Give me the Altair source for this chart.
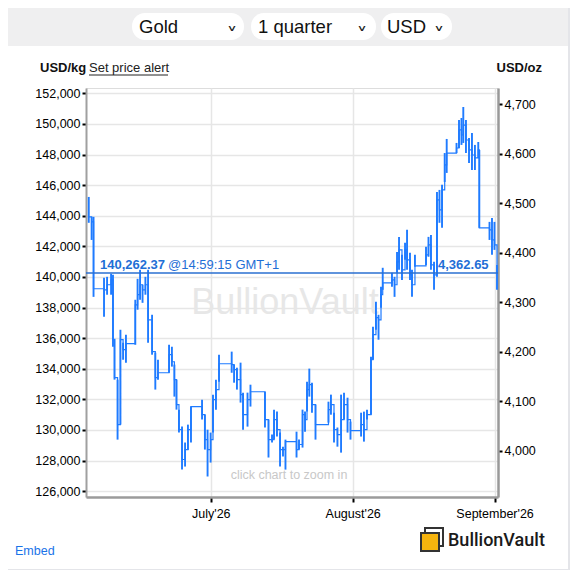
import altair as alt
import pandas as pd

# ---- price bars (USD/kg) ----
times = [
    "2026-06-04T08:00", "2026-06-04T23:00", "2026-06-05T09:00", "2026-06-07T16:00", "2026-06-08T08:00",
    "2026-06-09T05:00", "2026-06-09T15:00", "2026-06-09T23:00", "2026-06-10T15:00", "2026-06-11T06:00",
    "2026-06-11T20:00", "2026-06-12T11:00", "2026-06-14T12:00", "2026-06-15T00:00", "2026-06-15T13:00",
    "2026-06-16T02:00", "2026-06-16T17:00", "2026-06-17T07:00", "2026-06-18T04:00", "2026-06-18T21:00",
    "2026-06-19T11:00", "2026-06-21T21:00", "2026-06-22T12:00", "2026-06-23T01:00", "2026-06-23T12:00",
    "2026-06-24T01:00", "2026-06-24T17:00", "2026-06-25T09:00", "2026-06-26T00:00", "2026-06-26T16:00",
    "2026-06-29T02:00", "2026-06-29T17:00", "2026-06-30T07:00", "2026-06-30T23:00", "2026-07-01T11:30",
    "2026-07-02T03:00", "2026-07-02T19:00", "2026-07-05T13:30", "2026-07-06T02:00", "2026-07-06T17:00",
    "2026-07-07T12:00", "2026-07-08T01:00", "2026-07-09T00:30", "2026-07-09T16:00", "2026-07-12T20:00",
    "2026-07-13T14:30", "2026-07-14T09:00", "2026-07-14T19:30", "2026-07-15T11:00", "2026-07-16T03:00",
    "2026-07-16T18:30", "2026-07-17T07:30", "2026-07-19T17:30", "2026-07-20T06:30", "2026-07-21T01:00",
    "2026-07-21T14:00", "2026-07-22T00:30", "2026-07-22T12:30", "2026-07-23T02:30", "2026-07-23T21:00",
    "2026-07-26T17:00", "2026-07-27T06:00", "2026-07-27T22:00", "2026-07-28T16:00", "2026-07-29T11:00",
    "2026-07-30T02:30", "2026-07-30T21:00", "2026-07-31T12:30", "2026-08-02T20:00", "2026-08-03T11:00",
    "2026-08-04T03:00", "2026-08-05T00:00", "2026-08-05T10:30", "2026-08-06T02:00", "2026-08-06T15:30",
    "2026-08-07T04:30", "2026-08-07T13:30", "2026-08-09T14:00", "2026-08-10T03:30", "2026-08-10T16:30",
    "2026-08-11T03:00", "2026-08-11T18:30", "2026-08-12T10:30", "2026-08-12T21:00", "2026-08-13T12:30",
    "2026-08-13T23:00", "2026-08-14T14:30", "2026-08-17T00:30", "2026-08-17T13:30", "2026-08-18T02:30",
    "2026-08-18T18:30", "2026-08-19T10:00", "2026-08-19T23:00", "2026-08-20T12:30", "2026-08-21T02:30",
    "2026-08-21T13:00", "2026-08-23T16:30", "2026-08-24T05:30", "2026-08-24T18:30", "2026-08-25T04:00",
    "2026-08-25T18:00", "2026-08-26T10:00", "2026-08-27T01:30", "2026-08-27T17:00", "2026-08-28T10:30",
    "2026-08-28T16:00", "2026-08-30T21:30", "2026-08-31T10:30", "2026-08-31T23:30", "2026-09-01T12:45",
]
highs = [
    145230, 143930, 143930, 139950, 140010, 140210, 140140, 135960, 133290, 136550,
    135700, 136230, 138510, 139880, 140470, 139490, 140010, 140470, 137530, 135050,
    134590, 135570, 135440, 134270, 133290, 131330, 130220, 129180, 130350, 131530,
    131980, 131000, 130020, 129830, 132310, 133290, 134920, 135120, 134270, 134070,
    134400, 132440, 132440, 132960, 132500, 130680, 129700, 131330, 131200, 129830,
    128910, 129370, 129890, 129370, 131330, 131200, 133160, 134010, 133090, 131660,
    131850, 132310, 131130, 130160, 132310, 132440, 132110, 130550, 131130, 131200,
    131330, 134790, 136750, 138380, 137530, 139360, 140600, 140270, 140010, 141640,
    142620, 141450, 142230, 143080, 141580, 140470, 141450, 141970, 142620, 142750,
    140990, 145560, 145690, 146020, 148100, 149020, 148760, 150260, 150390, 151110,
    150260, 149080, 149410, 148630, 148820, 148300, 143600, 143860, 143600, 140790,
]
lows = [
    143540, 142420, 138700, 137400, 138840, 138840, 135440, 133290, 129370, 130350,
    134590, 134400, 135570, 137860, 138510, 138310, 138840, 135700, 134920, 132640,
    133290, 133740, 134140, 132180, 131330, 129830, 127410, 127610, 128700, 129180,
    130680, 128720, 126960, 127870, 129830, 131330, 133160, 133740, 133090, 132640,
    131790, 130020, 130220, 131530, 130160, 128200, 129180, 129370, 129570, 127610,
    128260, 127410, 128200, 128720, 128850, 129890, 131200, 132180, 131130, 129370,
    130480, 131000, 129180, 128910, 128520, 130680, 129830, 129370, 129570, 129240,
    130680, 131000, 134590, 136550, 135900, 137990, 139160, 139360, 138700, 140270,
    140470, 139810, 141120, 140470, 139810, 138700, 140660, 140790, 141320, 140470,
    139160, 140010, 143540, 143210, 146210, 146800, 148100, 148430, 148630, 148760,
    148100, 147450, 146990, 146990, 147780, 143210, 142420, 141450, 141770, 139160,
]
closes = [
    143930, 143600, 139230, 139160, 139490, 139810, 135900, 133420, 130350, 135900,
    135250, 135640, 138180, 138840, 139490, 139160, 139490, 137200, 135120, 133420,
    133740, 134920, 134460, 133290, 131660, 130020, 128070, 128720, 130020, 131530,
    131000, 129370, 128720, 129370, 131980, 132640, 134330, 134270, 133940, 133290,
    132310, 131000, 131980, 132500, 130680, 129370, 129370, 130680, 130020, 128720,
    128720, 129240, 128720, 129050, 131000, 130680, 132640, 132960, 131660, 130350,
    131330, 131660, 130020, 129700, 130680, 131660, 130680, 129960, 130350, 130020,
    131000, 134590, 136230, 137340, 137200, 138840, 139620, 139810, 139490, 140990,
    141770, 140470, 141770, 141120, 140140, 139490, 140730, 141450, 142100, 140790,
    140140, 145040, 144380, 145690, 147320, 148100, 148430, 149610, 149280, 149930,
    148950, 148300, 147970, 147780, 148300, 143210, 143080, 142420, 142100, 140262.37,
]

current_kg = 140262.37
current_oz = 4362.65
kg_ticks = list(range(126000, 152001, 2000))
oz_ticks = list(range(4000, 4701, 100))
month_ticks = [alt.DateTime(year=2026, month=m, date=1) for m in (7, 8, 9)]

KG_DOMAIN = [125620, 152350]
OZ_DOMAIN = [3907, 4733]
X_DOMAIN = [alt.DateTime(year=2026, month=6, date=3, hours=17, minutes=30),
            alt.DateTime(year=2026, month=9, date=1, hours=18)]

W, H = 412, 409
BLUE = "#1f7bff"
TXT_BLUE = "#1f6fd6"
FONT = "Liberation Sans"

df = pd.DataFrame({"t": times, "high": highs, "low": lows, "close": closes})
one = pd.DataFrame({"d": [0]})
price_df = pd.DataFrame({"price": [current_kg]})
oz_df = pd.DataFrame({"oz": [OZ_DOMAIN[0]]})

base = alt.Chart(one)


def rect(x, x2, y, y2, **kw):
    return base.mark_rect(**kw).encode(x=alt.value(x), x2=alt.value(x2), y=alt.value(y), y2=alt.value(y2))


def text(s, x, y, **kw):
    return base.mark_text(text=s, font=kw.pop("font", FONT), **kw).encode(x=alt.value(x), y=alt.value(y))


# ---- decorations (header, labels, footer) ----
header = rect(-78, 482, -80, -42, color="#efeff0")
edge_r = rect(482, 492, -80, 484, color="#e4e5e9")
edge_b = rect(-78, 492, 481, 484, color="#e4e5e9")
pill1 = rect(46, 158, -75, -48, color="white", cornerRadius=13)
pill2 = rect(165, 290, -75, -48, color="white", cornerRadius=13)
pill3 = rect(295, 366, -75, -48, color="white", cornerRadius=13)
sel1 = text("Gold", 53, -61.5, align="left", baseline="middle", fontSize=18.5, color="#111")
sel2 = text("1 quarter", 172, -61.5, align="left", baseline="middle", fontSize=18.5, color="#111")
sel3 = text("USD", 301, -61.5, align="left", baseline="middle", fontSize=18.5, color="#111")
chev_kw = dict(align="center", baseline="middle", fontSize=22, color="#222", font="DejaVu Sans")
chev1 = text("˅", 146, -52, **chev_kw)
chev2 = text("˅", 276, -52, **chev_kw)
chev3 = text("˅", 353, -52, **chev_kw)

unit_kg = text("USD/kg", -46, -20, align="left", baseline="middle", fontSize=13, fontWeight="bold", color="#111")
alert = text("Set price alert", 3, -20, align="left", baseline="middle", fontSize=13, color="#222")
alert_ul = base.mark_rule(color="#222", strokeWidth=1).encode(
    x=alt.value(3), x2=alt.value(82), y=alt.value(-13))
unit_oz = text("USD/oz", 456, -20, align="right", baseline="middle", fontSize=13, fontWeight="bold", color="#111")

watermark = text("BullionVault", 199, 215, align="center", baseline="middle", fontSize=36, color="#e7e7e7")
zoom_hint = text("click chart to zoom in", 203, 387, align="center", baseline="middle", fontSize=12.5, color="#c8c8c8")

embed = text("Embed", -71, 463, align="left", baseline="middle", fontSize=12.5, color="#1a73e8")
logo_back = rect(339, 357, 440, 458, fill="white", stroke="#333", strokeWidth=2)
logo_front = rect(335, 353, 445, 463, fill="#f6b40e", stroke="#333", strokeWidth=2)
logo_txt = text("BullionVault", 362, 453, align="left", baseline="middle", fontSize=18,
                font="Roboto", fontWeight=500, color="#1a1a1a")

# ---- chart layers ----
x_axis = alt.Axis(
    values=month_ticks,
    labelExpr="timeFormat(datum.value, '%B') + \"'\" + timeFormat(datum.value, '%y')",
    title=None, grid=True, gridColor="#e6e6e6", gridWidth=1.5,
    domainColor="#9a9a9a", domainWidth=2.5, tickColor="#000", tickWidth=2, tickSize=5,
    labelFontSize=12.5, labelColor="#000", labelPadding=5, labelFont=FONT,
)
x_scale = alt.Scale(domain=X_DOMAIN)

bars = alt.Chart(df).mark_rule(color=BLUE, strokeWidth=1.9).encode(
    x=alt.X("t:T", scale=x_scale, axis=x_axis),
    y=alt.Y(
        "low:Q",
        scale=alt.Scale(domain=KG_DOMAIN, zero=False, nice=False),
        axis=alt.Axis(
            values=kg_ticks, format=",d", title=None, grid=True, gridColor="#e6e6e6", gridWidth=1.5,
            domainColor="#a0a0a0", domainWidth=2, tickColor="#000", tickWidth=2, tickSize=4,
            labelPadding=2, labelFontSize=12.5, labelColor="#000", labelFont=FONT,
        ),
    ),
    y2="high:Q",
)

steps = alt.Chart(df).mark_line(color=BLUE, strokeWidth=1.2, interpolate="step-after").encode(
    x=alt.X("t:T", scale=x_scale, axis=x_axis),
    y=alt.Y("close:Q", scale=alt.Scale(domain=KG_DOMAIN, zero=False, nice=False), axis=None),
)

price_line = alt.Chart(price_df).mark_rule(color="#2a6fd0", strokeWidth=1.5).encode(
    x=alt.value(0), x2=alt.value(W),
    y=alt.Y("price:Q", scale=alt.Scale(domain=KG_DOMAIN, zero=False, nice=False), axis=None),
)

price_kg_txt = text(f"{current_kg:,.2f}", 14, 177, align="left", baseline="middle", fontSize=13,
                    fontWeight="bold", color=TXT_BLUE)
price_time_txt = text("@14:59:15 GMT+1", 82, 177, align="left", baseline="middle", fontSize=13, color=TXT_BLUE)
price_oz_txt = text(f"{current_oz:,.2f}", 352, 177, align="left", baseline="middle", fontSize=13,
                    fontWeight="bold", color=TXT_BLUE)

oz_axis = alt.Chart(oz_df).mark_point(opacity=0).encode(
    y=alt.Y(
        "oz:Q",
        scale=alt.Scale(domain=OZ_DOMAIN, zero=False, nice=False),
        axis=alt.Axis(
            orient="right", values=oz_ticks, format=",d", title=None, grid=False,
            domainColor="#999999", domainWidth=2.5, tickColor="#000", tickWidth=2, tickSize=4,
            labelPadding=2, labelFontSize=12.5, labelColor="#000", labelFont=FONT,
        ),
    ),
)

chart = alt.layer(
    header, edge_r, edge_b, pill1, pill2, pill3, sel1, sel2, sel3, chev1, chev2, chev3,
    unit_kg, alert, alert_ul, unit_oz, watermark, zoom_hint,
    bars, steps, price_line, price_kg_txt, price_time_txt, price_oz_txt, oz_axis,
    embed, logo_back, logo_front, logo_txt,
).resolve_scale(y="independent").properties(
    width=W, height=H,
    autosize=alt.AutoSizeParams(type="none"),
    padding={"left": 78, "top": 80, "right": 72, "bottom": 73},
    background="white",
).configure_view(stroke=None).configure(font=FONT)

chart.save("out.html", embed_options={"renderer": "svg", "actions": False})
